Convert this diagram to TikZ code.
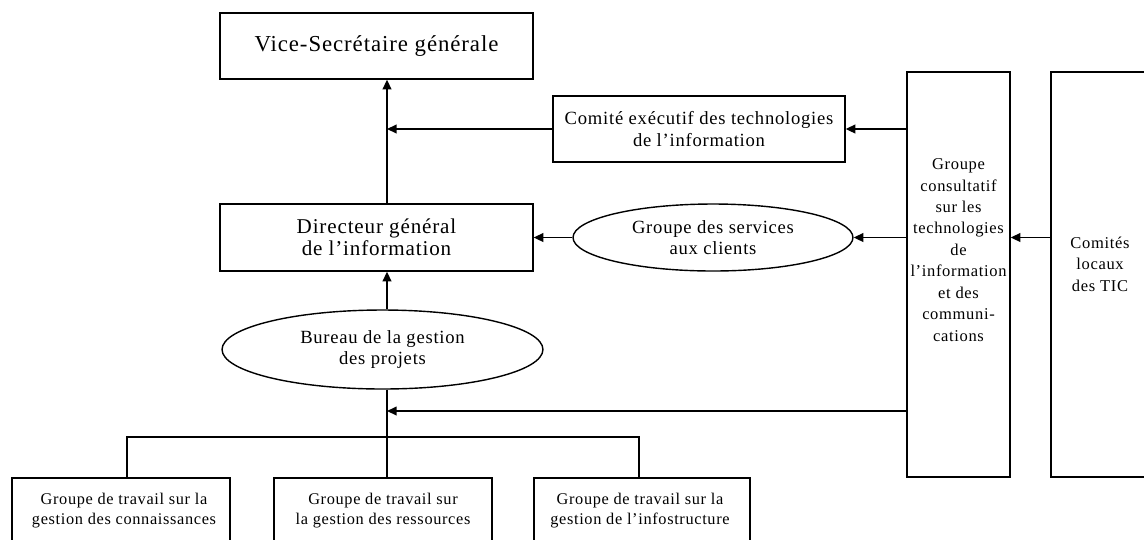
\documentclass[tikz,border=0pt]{standalone}
\usepackage{fontspec}
\setmainfont{Liberation Serif}[LetterSpace=4]
\usepackage{tikz}
\usetikzlibrary{
  arrows.meta,
  shapes.geometric
}
\tikzset{
  unitbox/.style={draw, line width=0.8pt, align=center, inner sep=0pt},
  unitoval/.style={draw, ellipse, line width=0.8pt, align=center, inner sep=0pt},
  arr/.style={-{Triangle[length=5.5pt, width=5pt]}, line width=0.8pt},
  ln/.style={line width=0.8pt},
}
\newcommand{\fsbig}{\fontsize{13}{14}\selectfont}
\newcommand{\fsmid}{\fontsize{12}{12.5}\selectfont}
\newcommand{\fsnorm}{\fontsize{10.6}{12}\selectfont}
\newcommand{\fssmall}{\fontsize{9.4}{12.2}\selectfont}
\newcommand{\fstiny}{\fontsize{9.3}{11.4}\selectfont}

\begin{document}
\begin{tikzpicture}[x=0.02cm, y=-0.02cm,
  wgbox/.style={unitbox, minimum width=4.36cm, minimum height=2.44cm},
  sidebox/.style={unitbox, minimum height=8.1cm}
]
  \useasboundingbox (0,0) rectangle (1144,539);
  \clip (0,0) rectangle (1144,539);

  % top of the chain
  \node[unitbox, minimum width=6.26cm, minimum height=1.32cm, font=\fsbig] (vsg) at (376.5,46) {Vice-Secrétaire générale};
  \node[unitbox, minimum width=5.84cm, minimum height=1.32cm, font=\fsnorm] (cet) at (699,129) {Comité exécutif des technologies\\de l'information};
  \node[unitbox, minimum width=6.26cm, minimum height=1.34cm, font=\fsmid] (dgi) at (376.5,237.5) {Directeur général\\de l'information};
  \node[unitoval, minimum width=5.6cm, minimum height=1.34cm, font=\fsnorm] (gsc) at (713,237.5) {Groupe des services\\aux clients};
  \node[unitoval, minimum width=6.42cm, minimum height=1.58cm, font=\fsnorm] (bgp) at (382.5,349.5) {Bureau de la gestion\\des projets};

  % right-hand committees
  \node[sidebox, minimum width=2.06cm] (gcti) at (958.5,274.5) {};
  \node[font=\fssmall, align=center] (gctitxt) at (958.5,250) {Groupe\\consultatif\\sur les\\technologies\\de\\l'information\\et des\\communi-\\cations};
  \node[sidebox, minimum width=1.98cm] (clt) at (1100.5,274.5) {};
  \node[font=\fssmall, align=center] (clttxt) at (1100,264) {Comités\\locaux\\des TIC};

  % working groups
  \node[wgbox] (wg1) at (121,539) {};
  \node[font=\fstiny, align=center] (wg1txt) at (124,511) {Groupe de travail sur la\\gestion des connaissances};
  \node[wgbox] (wg2) at (383,539) {};
  \node[font=\fstiny, align=center] (wg2txt) at (383,511) {Groupe de travail sur\\la gestion des ressources};
  \node[wgbox, minimum width=4.32cm] (wg3) at (642,539) {};
  \node[font=\fstiny, align=center] (wg3txt) at (640,511) {Groupe de travail sur la\\gestion de l'infostructure};

  % spine
  \coordinate (spine) at (387,437);
  \coordinate (tap) at (387,411);
  \draw[arr] (spine |- dgi.north) -- (spine |- vsg.south);
  \draw[arr] (cet.west) -- (spine |- cet.west);
  \draw[arr] (spine |- bgp.north) -- (spine |- dgi.south);
  \draw[ln] (spine |- bgp.south) -- (spine);
  \draw[arr] (gsc.west) -- (dgi.east);

  % from the advisory group
  \draw[arr] (gcti.west |- cet.east) -- (cet.east);
  \draw[arr] (gcti.west |- gsc.east) -- (gsc.east);
  \draw[arr] (gcti.west |- tap) -- (tap);
  \draw[arr] (clt.west |- gsc.east) -- (gcti.east |- gsc.east);

  % down to the working groups
  \draw[ln] ([xshift=0.12cm]wg1.north) |- (spine);
  \draw[ln] (spine) -| ([xshift=-0.06cm]wg3.north);
  \draw[ln] (spine) -- (spine |- wg2.north);
\end{tikzpicture}
\end{document}
